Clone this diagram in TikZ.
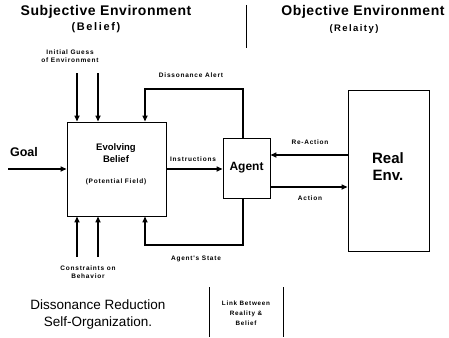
\documentclass[tikz,border=0pt]{standalone}
\usepackage{fontspec}
\setmainfont{Liberation Sans}
\newfontfamily\spfont[LetterSpace=12]{Liberation Sans}
\newfontfamily\wsfont[LetterSpace=15]{Liberation Sans}
\newfontfamily\ttlfont[LetterSpace=4]{Liberation Sans}
\usetikzlibrary{arrows.meta}
\begin{document}
\begin{tikzpicture}[x=1pt,y=-1pt,
  box/.style={draw,line width=0.9pt,inner sep=0pt},
  arr/.style={line width=1.8pt,-{Triangle[length=6pt,width=5pt]}},
  small/.style={font=\spfont\bfseries\fontsize{6.5}{8.5}\selectfont,align=center,inner sep=0pt},
  ttl/.style={font=\ttlfont\bfseries\fontsize{14}{16}\selectfont,inner sep=0pt},
  sub/.style={font=\wsfont\bfseries\fontsize{11}{12}\selectfont,inner sep=0pt},
  mid/.style={font=\bfseries\fontsize{9.5}{12}\selectfont,align=center,inner sep=0pt},
  big/.style={font=\bfseries\fontsize{13}{15}\selectfont,align=center,inner sep=0pt},
  sep/.style={line width=0.6pt}]
\useasboundingbox (0,0) rectangle (449,337);

% titles
\node[ttl] (t1) at (106,12) {Subjective Environment};
\node[sub] (t1b) at (96,28) {(Belief)};
\node[ttl] (t2) at (363,12) {Objective Environment};
\node[sub,font=\wsfont\bfseries\fontsize{9.5}{12}\selectfont] (t2b) at (354,29) {(Relaity)};
\coordinate (s1) at (246,5);
\coordinate (s2) at (246,48);
\draw[sep] (s1) -- (s2);

% boxes
\node[box,minimum width=99pt,minimum height=94pt] (belief) at (116.5,169) {};
\node[mid] (bt) at (116,153) {Evolving\\Belief};
\node[small] (pf) at (116,182) {(Potential Field)};
\node[box,minimum width=47pt,minimum height=60pt,font=\bfseries\fontsize{12}{14}\selectfont] (agent) at (246.5,168) {Agent};
\node[box,minimum width=81pt,minimum height=161pt] (env) at (388.5,170.5) {};
\node[big,font=\bfseries\fontsize{15}{17}\selectfont] (envt) at (388,167) {Real\\Env.};

% goal
\node[big,font=\bfseries\fontsize{12.5}{14}\selectfont] (goal) at (24,152) {Goal};
\coordinate (g0) at (8,169);
\draw[arr] (g0) -- (belief.west |- g0);

% instructions
\coordinate (ins) at (0,169);
\draw[arr] (belief.east |- ins) -- (agent.west |- ins);
\node[small] (insl) at (193,159) {Instructions};

% initial guess
\node[small] (igl) at (70,56) {Initial Guess\\of Environment};
\coordinate (ig1) at (77,73);
\coordinate (ig2) at (98,73);
\draw[arr] (ig1) -- (belief.north -| ig1);
\draw[arr] (ig2) -- (belief.north -| ig2);

% constraints
\node[small] (cl) at (88,272) {Constraints on\\Behavior};
\coordinate (c1) at (77,257);
\coordinate (c2) at (98,257);
\draw[arr] (c1) -- (belief.south -| c1);
\draw[arr] (c2) -- (belief.south -| c2);

% dissonance alert
\coordinate (dax) at (243,0);
\coordinate (da) at (145,89);
\draw[arr] (agent.north -| dax) |- (da) -- (belief.north -| da);
\node[small] (dal) at (191,75) {Dissonance Alert};

% agent's state
\coordinate (as) at (145,245);
\draw[arr] (agent.south -| dax) |- (as) -- (belief.south -| as);
\node[small] (asl) at (196,259) {Agent's State};

% re-action / action
\coordinate (ra) at (0,155);
\coordinate (ac) at (0,187);
\draw[arr] (env.west |- ra) -- (agent.east |- ra);
\draw[arr] (agent.east |- ac) -- (env.west |- ac);
\node[small] (ral) at (310,142) {Re-Action};
\node[small] (acl) at (310,198) {Action};

% bottom texts
\node[font=\fontsize{13.5}{17}\selectfont,align=center,inner sep=0pt] (dr) at (98,315) {Dissonance Reduction\\Self-Organization.};
\coordinate (l1a) at (209,287);
\coordinate (l1b) at (209,337);
\coordinate (l2a) at (283,287);
\coordinate (l2b) at (283,337);
\draw[sep] (l1a) -- (l1b);
\draw[sep] (l2a) -- (l2b);
\node[small,font=\spfont\bfseries\fontsize{6.3}{10}\selectfont] (lk) at (246,313) {Link Between\\Reality \&\\Belief};
\end{tikzpicture}
\end{document}
